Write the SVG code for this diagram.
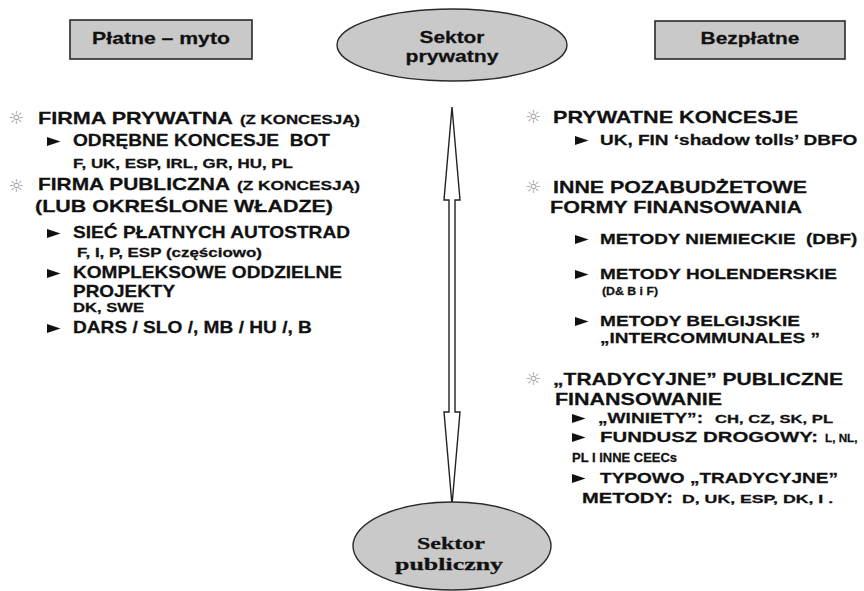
<svg xmlns="http://www.w3.org/2000/svg" xmlns:xlink="http://www.w3.org/1999/xlink" width="864" height="591" viewBox="0 0 864 591">
<style>
text{font-family:"Liberation Sans",Arial,sans-serif;font-weight:bold;fill:#111;white-space:pre;stroke:#111;stroke-width:0.25}
.h{font-size:16.5px}
.m{font-size:16px}
.r{font-size:15.5px}
.r2{font-size:14px}
.s{font-size:12px}
.xs{font-size:10.5px}
.sun{font-family:"DejaVu Sans",sans-serif;font-weight:normal;font-size:18px;fill:#9a9a9a;stroke:none;text-anchor:middle}
.serif{font-family:"Liberation Serif","Times New Roman",serif;font-size:17.5px;text-anchor:middle}
.c{text-anchor:middle}
.box{fill:#c9c9c9;stroke:#2a2a2a;stroke-width:1.6}
.ell{fill:#c9c9c9;stroke:#2a2a2a;stroke-width:1.4}
</style>
<defs>
<path id="tri" d="M0,-9 L13.5,-4.5 L0,0 Z" fill="#111"/>
</defs>
<rect width="864" height="591" fill="#fff"/>

<g id="connectors">
<path d="M452,107 L460,200 L455,200 L455,412 L460,412 L452,505 L444,412 L449,412 L449,200 L444,200 Z" fill="#fff" stroke="#222" stroke-width="1.4" stroke-linejoin="miter"/>
</g>

<g id="box-platne">
<rect class="box" x="70" y="20" width="182" height="39"/>
<text class="h c" transform="translate(161,44) scale(1.3,1)" textLength="106" lengthAdjust="spacingAndGlyphs">Płatne – myto</text>
</g>

<g id="sektor-prywatny">
<ellipse class="ell" cx="452" cy="45" rx="115" ry="36"/>
<text class="h c" transform="translate(452,43) scale(1.3,1)" textLength="50" lengthAdjust="spacingAndGlyphs">Sektor</text>
<text class="h c" transform="translate(452,62) scale(1.3,1)" textLength="71.5" lengthAdjust="spacingAndGlyphs">prywatny</text>
</g>

<g id="box-bezplatne">
<rect class="box" x="655" y="21" width="190" height="38"/>
<text class="h c" transform="translate(750,44) scale(1.3,1)" textLength="76" lengthAdjust="spacingAndGlyphs">Bezpłatne</text>
</g>

<g id="sektor-publiczny">
<ellipse class="ell" cx="452" cy="546" rx="99" ry="44"/>
<text class="serif" transform="translate(451,549) scale(1.25,1)" textLength="54.4" lengthAdjust="spacingAndGlyphs">Sektor</text>
<text class="serif" transform="translate(449,570) scale(1.25,1)" textLength="86.4" lengthAdjust="spacingAndGlyphs">publiczny</text>
</g>

<g id="left-list">
<text class="sun" x="16" y="124">☼</text>
<text class="h" transform="translate(38,124) scale(1.3,1)" textLength="150" lengthAdjust="spacingAndGlyphs">FIRMA PRYWATNA</text>
<text class="s" transform="translate(240,124) scale(1.3,1)" textLength="92.3" lengthAdjust="spacingAndGlyphs">(Z KONCESJĄ)</text>
<use xlink:href="#tri" x="47" y="146"/>
<text class="m" transform="translate(73,146) scale(1.3,1)" textLength="197.7" lengthAdjust="spacingAndGlyphs">ODRĘBNE KONCESJE  BOT</text>
<text class="s" transform="translate(73,168) scale(1.3,1)" textLength="169.2" lengthAdjust="spacingAndGlyphs">F, UK, ESP, IRL, GR, HU, PL</text>
<text class="sun" x="16" y="192">☼</text>
<text class="h" transform="translate(38,190) scale(1.3,1)" textLength="147.7" lengthAdjust="spacingAndGlyphs">FIRMA PUBLICZNA</text>
<text class="s" transform="translate(237,190) scale(1.3,1)" textLength="94.6" lengthAdjust="spacingAndGlyphs">(Z KONCESJĄ)</text>
<text class="h" transform="translate(35,212) scale(1.3,1)" textLength="229.2" lengthAdjust="spacingAndGlyphs">(LUB OKREŚLONE WŁADZE)</text>
<use xlink:href="#tri" x="47" y="238"/>
<text class="m" transform="translate(73,238) scale(1.3,1)" textLength="213.1" lengthAdjust="spacingAndGlyphs">SIEĆ PŁATNYCH AUTOSTRAD</text>
<text class="s" transform="translate(77,257) scale(1.3,1)" textLength="142.3" lengthAdjust="spacingAndGlyphs">F, I, P, ESP (częściowo)</text>
<use xlink:href="#tri" x="47" y="278"/>
<text class="m" transform="translate(73,278) scale(1.3,1)" textLength="206.9" lengthAdjust="spacingAndGlyphs">KOMPLEKSOWE ODDZIELNE</text>
<text class="m" transform="translate(73,297) scale(1.3,1)" textLength="78.5" lengthAdjust="spacingAndGlyphs">PROJEKTY</text>
<text class="s" transform="translate(73,312) scale(1.3,1)" textLength="54.6" lengthAdjust="spacingAndGlyphs">DK, SWE</text>
<use xlink:href="#tri" x="47" y="333"/>
<text class="m" transform="translate(73,333) scale(1.3,1)" textLength="183.8" lengthAdjust="spacingAndGlyphs">DARS / SLO /, MB / HU /, B</text>
</g>

<g id="right-list">
<text class="sun" x="533" y="123">☼</text>
<text class="h" transform="translate(553,123) scale(1.3,1)" textLength="188.5" lengthAdjust="spacingAndGlyphs">PRYWATNE KONCESJE</text>
<use xlink:href="#tri" x="575" y="145"/>
<text class="r2" transform="translate(600,145) scale(1.3,1)" textLength="198" lengthAdjust="spacingAndGlyphs">UK, FIN ‘shadow tolls’ DBFO</text>
<text class="sun" x="533" y="193">☼</text>
<text class="h" transform="translate(553,193) scale(1.3,1)" textLength="195.4" lengthAdjust="spacingAndGlyphs">INNE POZABUDŻETOWE</text>
<text class="h" transform="translate(550,213) scale(1.3,1)" textLength="193.8" lengthAdjust="spacingAndGlyphs">FORMY FINANSOWANIA</text>
<use xlink:href="#tri" x="575" y="244"/>
<text class="r2" transform="translate(600,244) scale(1.3,1)" textLength="198" lengthAdjust="spacingAndGlyphs">METODY NIEMIECKIE  (DBF)</text>
<use xlink:href="#tri" x="575" y="279"/>
<text class="r" transform="translate(600,279) scale(1.3,1)" textLength="182.3" lengthAdjust="spacingAndGlyphs">METODY HOLENDERSKIE</text>
<text class="xs" transform="translate(602,295) scale(1.3,1)" textLength="43.1" lengthAdjust="spacingAndGlyphs">(D&amp; B i F)</text>
<use xlink:href="#tri" x="575" y="326"/>
<text class="r" transform="translate(600,326) scale(1.3,1)" textLength="153.8" lengthAdjust="spacingAndGlyphs">METODY BELGIJSKIE</text>
<text class="r" transform="translate(600,343) scale(1.3,1)" textLength="169.2" lengthAdjust="spacingAndGlyphs">„INTERCOMMUNALES ”</text>
<text class="sun" x="533" y="385">☼</text>
<text class="h" transform="translate(553,385) scale(1.3,1)" textLength="223.1" lengthAdjust="spacingAndGlyphs">„TRADYCYJNE” PUBLICZNE</text>
<text class="h" transform="translate(555,405) scale(1.3,1)" textLength="128.5" lengthAdjust="spacingAndGlyphs">FINANSOWANIE</text>
<use xlink:href="#tri" x="572" y="423"/>
<text class="r" transform="translate(598,423) scale(1.3,1)" textLength="80.8" lengthAdjust="spacingAndGlyphs">„WINIETY”:</text>
<text class="xs" transform="translate(715,423) scale(1.3,1)" textLength="90.8" lengthAdjust="spacingAndGlyphs">CH, CZ, SK, PL</text>
<use xlink:href="#tri" x="572" y="442"/>
<text class="r" transform="translate(600,442) scale(1.3,1)" textLength="167.7" lengthAdjust="spacingAndGlyphs">FUNDUSZ DROGOWY:</text>
<text class="xs" transform="translate(825,442) scale(1.3,1)" textLength="25" lengthAdjust="spacingAndGlyphs">L, NL,</text>
<text class="s" transform="translate(572,462) scale(1.3,1)" textLength="80.8" lengthAdjust="spacingAndGlyphs">PL I INNE CEECs</text>
<use xlink:href="#tri" x="572" y="483"/>
<text class="r" transform="translate(600,483) scale(1.3,1)" textLength="183.1" lengthAdjust="spacingAndGlyphs">TYPOWO „TRADYCYJNE”</text>
<text class="r" transform="translate(582,503) scale(1.3,1)" textLength="70" lengthAdjust="spacingAndGlyphs">METODY:</text>
<text class="xs" transform="translate(682,503) scale(1.3,1)" textLength="116.2" lengthAdjust="spacingAndGlyphs">D, UK, ESP, DK, I .</text>
</g>
</svg>
